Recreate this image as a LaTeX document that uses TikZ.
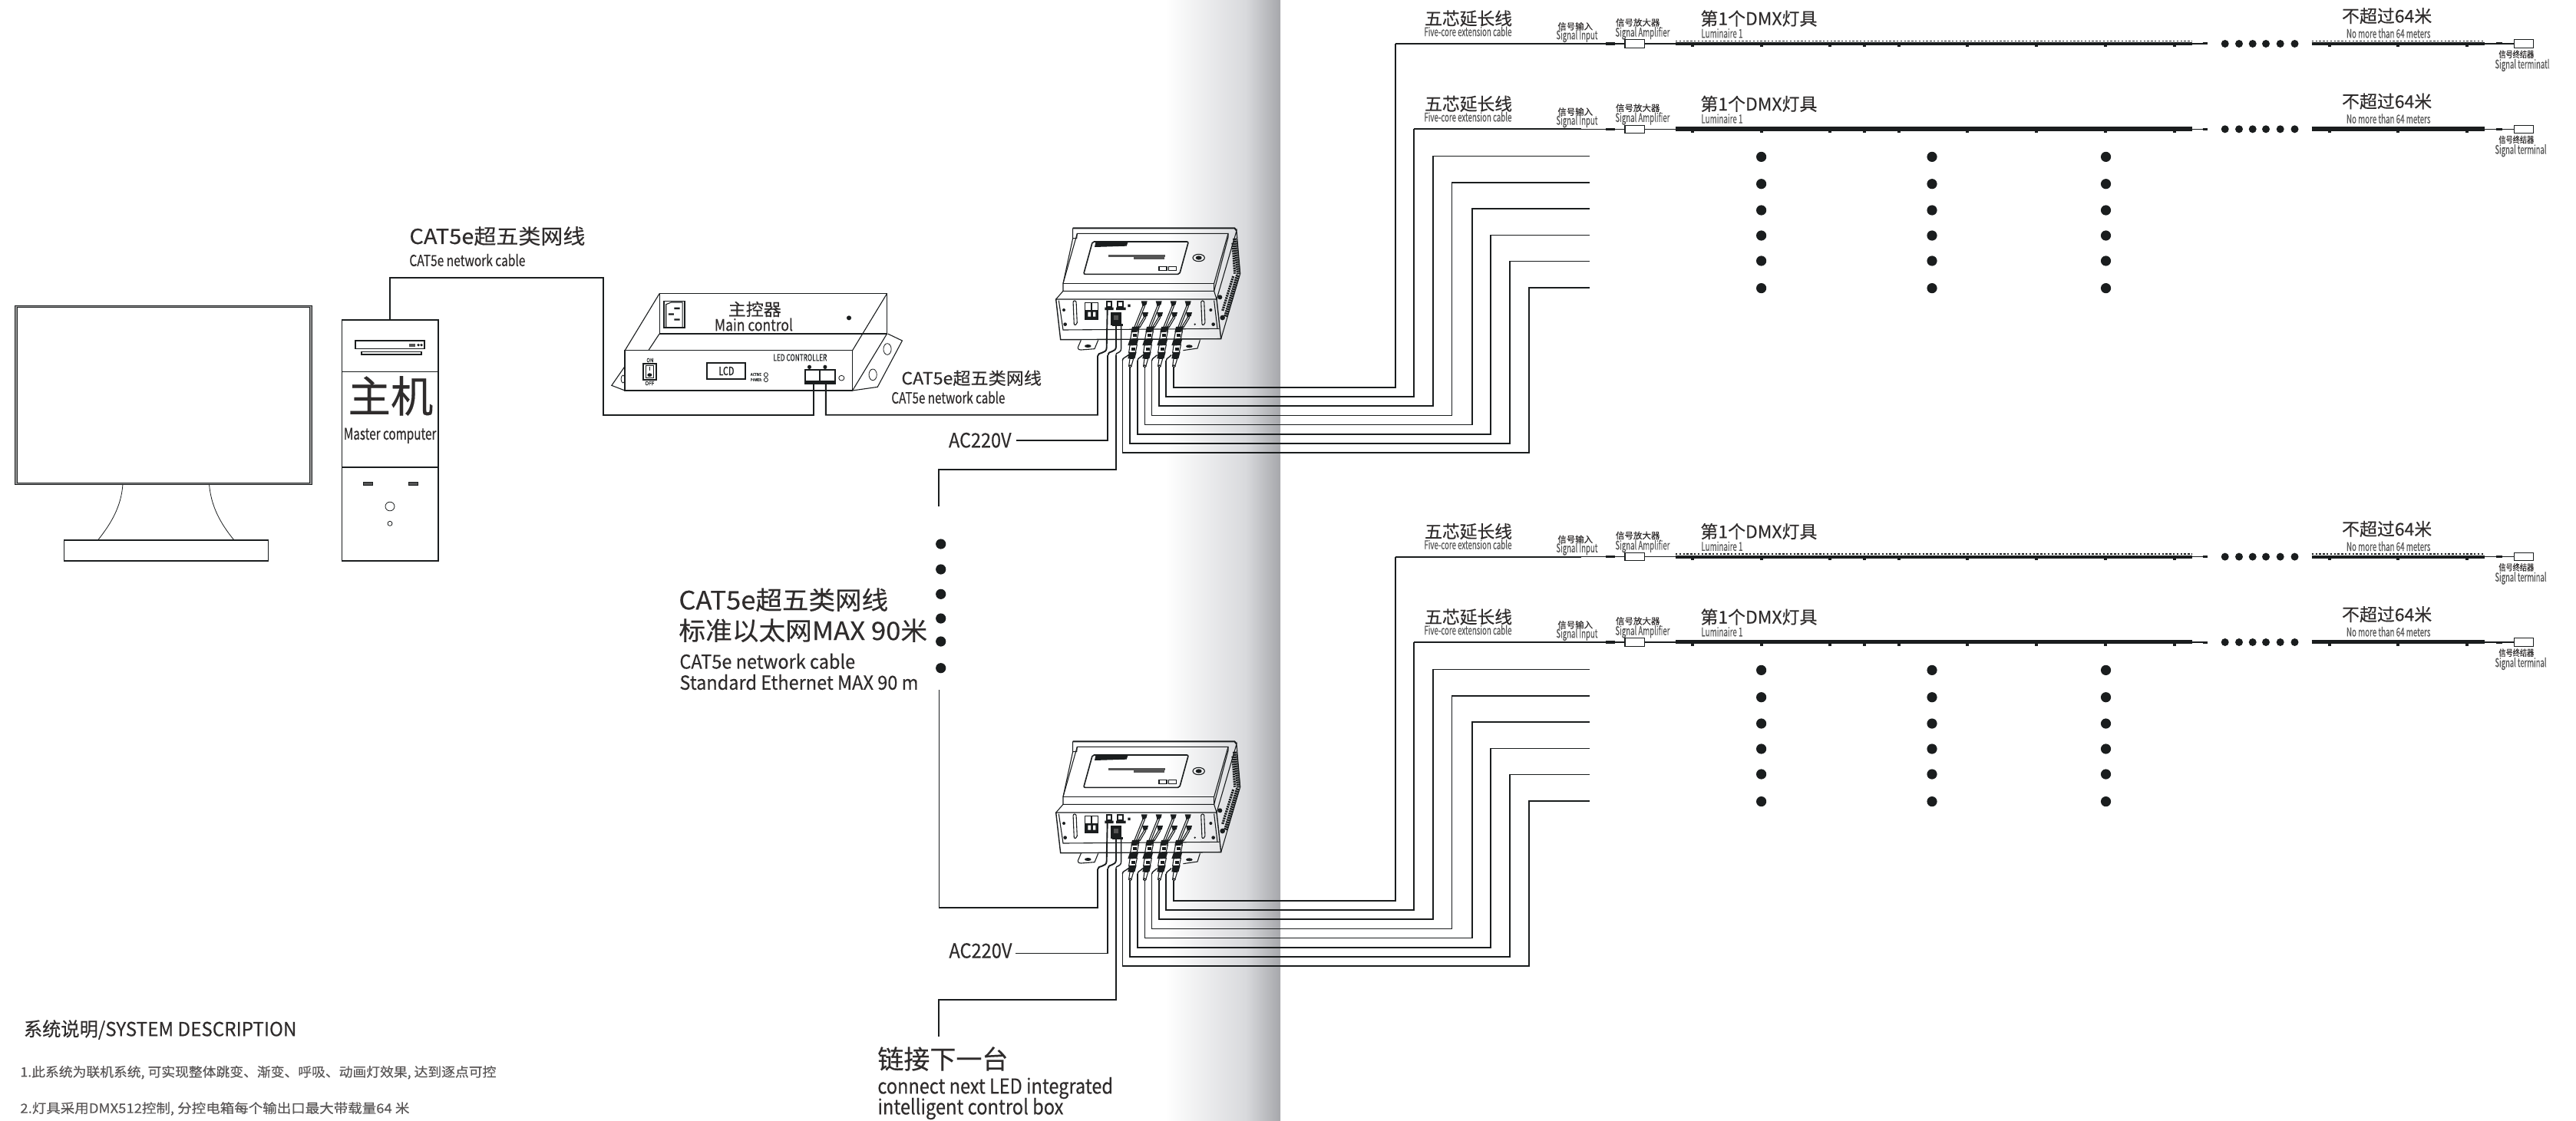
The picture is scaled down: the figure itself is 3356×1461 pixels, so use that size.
\documentclass[tikz,border=0pt]{standalone}
\usepackage{fontspec}
\usepackage{graphicx}
\setmainfont[FakeBold=0.3]{Noto Sans CJK SC}
\definecolor{ink}{HTML}{1A1D1E}
\definecolor{tit}{HTML}{2F2C2C}
\definecolor{sub}{HTML}{555555}
\definecolor{desc}{HTML}{5A5757}
\definecolor{bandA}{HTML}{D8D9DC}
\definecolor{bandB}{HTML}{A6A7AB}
\tikzset{
  wire/.style={draw=ink,line width=0.95pt,line join=miter},
  wirethin/.style={draw=ink,line width=0.7pt,line join=miter},
  hair/.style={draw=ink,line width=0.4pt},
  fine/.style={draw=ink,line width=0.55pt},
  bold/.style={draw=ink,line width=1pt},
  bigdot/.style={circle,fill=ink,inner sep=0pt,minimum size=6.6pt},
  whitebox/.style={draw=ink,fill=white,line width=0.6pt,inner sep=0pt},
}
\newcommand\lab[6][tit]{\node[anchor=west,inner sep=0pt,text=#1] (#2) at (#3) {\resizebox*{\dimexpr#4pt/2\relax}{\totalheight}{\fontsize{#5}{#5}\selectfont #6}};}
% one LED run
\newcommand\ledrun[6]{% name, y, solid?, terminal label, vertical x, long label?
  \coordinate (#1-in) at (#5,#2);
  \node[whitebox,minimum width=12.7pt,minimum height=5.2pt] (#1-amp) at (2129.7,#2) {};
  \node[whitebox,minimum width=12.7pt,minimum height=5.2pt] (#1-term) at (3288,#2) {};
  \coordinate (#1-a) at (2183,#2);
  \coordinate (#1-b) at (2855.6,#2);
  \coordinate (#1-b2) at (2875.7,#2);
  \coordinate (#1-c) at (3011.7,#2);
  \coordinate (#1-d) at (3236.8,#2);
  \draw[fine] (#1-in) -- (#1-amp.west);
  \draw[line width=1pt,draw=ink] (#1-in) -- (2060,#2);
  \draw[line width=1.7pt,draw=ink] (2092,#2) -- (2103.6,#2);
  \draw[fine] (#1-amp.east) -- (#1-a);
  \draw[fine] (#1-b) -- (#1-b2);
  \draw[line width=1.5pt,draw=ink] (2869.5,#2) -- (#1-b2);
  \draw[fine] (#1-d) -- (#1-term.west);
  \draw[line width=1.5pt,draw=ink] (3251.5,#2) -- (3260,#2);
  \ifnum#3=1
    \draw[line width=2.8pt,draw=ink] ($(#1-a)+(0,-0.5)$) -- ($(#1-b)+(0,-0.5)$);
    \draw[line width=2.8pt,draw=ink] ($(#1-c)+(0,-0.5)$) -- ($(#1-d)+(0,-0.5)$);
  \else
    \draw[line width=1.9pt,draw=ink] ($(#1-a)+(0,0.4)$) -- ($(#1-b)+(0,0.4)$);
    \draw[line width=1.9pt,draw=ink] ($(#1-c)+(0,0.4)$) -- ($(#1-d)+(0,0.4)$);
    \draw[line width=0.7pt,draw=ink,dash pattern=on 1.2pt off 1.2pt] ($(#1-a)+(0,-3.6)$) -- ($(#1-b)+(0,-3.6)$);
    \draw[line width=0.7pt,draw=ink,dash pattern=on 1.2pt off 1.2pt] ($(#1-c)+(0,-3.6)$) -- ($(#1-d)+(0,-3.6)$);
  \fi
  \foreach \tx in {2205,2294.5,2384,2429,2473.5,2563,2652.5,2742.5,2832.5,3034.7,3124,3214}
    \fill[ink] (\tx-2,#2) rectangle (\tx+2,#2+4.5);
  \foreach \dx [count=\k] in {2898.7,2917,2934.7,2952,2970.7,2989.5}
    \node[circle,fill=ink,inner sep=0pt,minimum size=5pt] (#1-dot\k) at (\dx,#2) {};
  \lab{#1-t1}{1855.8,#2-33}{113.8}{11.4}{五芯延长线}
  \lab[sub]{#1-t2}{1855,#2-16}{114}{7.8}{Five-core extension cable}
  \lab{#1-t3}{2029,#2-22.7}{45.6}{5.7}{信号输入}
  \lab[sub]{#1-t4}{2027,#2-10}{54}{7.8}{Signal Input}
  \lab{#1-t5}{2104.5,#2-27.7}{57.5}{5.7}{信号放大器}
  \lab[sub]{#1-t6}{2104,#2-13.7}{71}{7.8}{Signal Amplifier}
  \lab{#1-t7}{2215,#2-33}{152}{11.4}{第1个DMX灯具}
  \lab[sub]{#1-t8}{2216,#2-13.7}{54}{7.8}{Luminaire 1}
  \lab{#1-t9}{3050.6,#2-36.3}{117.2}{11.4}{不超过64米}
  \lab[sub]{#1-t10}{3056.5,#2-13.7}{109.5}{7.8}{No more than 64 meters}
  \lab{#1-t11}{3255,#2+13.7}{45.8}{5.7}{信号终结器}
  \lab[sub]{#1-t12}{3250,#2+28}{\ifnum#6=1 71\else 67\fi}{7.8}{#4}
}
% distribution box, drawn in its own 3x crop coordinates
\newcommand\jbox[2]{%
\begin{scope}[shift={(1340,{280+#2})},x=0.16667pt,y=-0.16667pt]
  % lid
  \draw[bold] (173,52) -- (805,52) -- (813,62);
  \draw[fine] (173,52) -- (173,92) -- (188,92) -- (190,73) -- (780,73) -- (725,268);
  \draw[fine] (173,92) -- (135,268) -- (135,298) -- (725,298) -- (725,268);
  \draw[line width=0.8pt,draw=ink] (135,268) -- (725,268);
  \draw[line width=0.8pt,draw=ink] (135,298) -- (725,298);
  \draw[fine] (190,73) -- (135,268);
  \draw[fine] (780,73) -- (780,88) -- (725,298);
  % body
  \draw[line width=0.7pt,draw=ink] (107,330) -- (735,330) -- (752,485) -- (125,488) -- cycle;
  \draw[fine] (118,335) -- (135,450) -- (745,445);
  \draw[fine] (725,335) -- (738,445);
  \draw[fine] (735,330) -- (813,62) -- (827,230) -- (752,485);
  \draw[fine] (135,298) -- (107,330);
  \draw[fine] (725,298) -- (735,330);
  \draw[ink,line width=2.6pt,dash pattern=on 1.1pt off 0.4pt] (806,92) -- (821,232);
  \draw[ink,line width=2.6pt,dash pattern=on 1.1pt off 0.4pt] (818,236) -- (770,398);
  \draw[ink,line width=1.6pt,dash pattern=on 1.1pt off 0.5pt] (798,110) -- (806,230);
  \draw[ink,line width=1.6pt,dash pattern=on 1.1pt off 0.5pt] (800,240) -- (758,375);
  \fill[ink] (748,322) circle[radius=9] (758,402) circle[radius=10];
  % label window
  \draw[line width=0.8pt,draw=ink,rounded corners=1pt] (250,105) -- (625,105) -- (590,232) -- (215,232) -- cycle;
  \fill[ink] (262,108) -- (388,108) -- (383,122) -- (258,126) -- cycle;
  \fill[sub] (312,157) rectangle (535,166);
  \fill[sub] (410,166) rectangle (530,174);
  \draw[fine] (510,203) rectangle (540,218) (548,203) rectangle (578,218);
  \draw[fine] (665,168) ellipse[x radius=23,y radius=14];
  \fill[ink] (665,168) ellipse[x radius=12,y radius=8];
  % feet
  \draw[fine] (205,490) -- (193,518) .. controls (193,528) and (200,528) .. (205,528) -- (258,524) -- (272,490);
  \fill[ink] (232,513) ellipse[x radius=13,y radius=6];
  \draw[fine] (670,490) -- (660,522) -- (604,530);
  \fill[ink] (628,514) ellipse[x radius=13,y radius=6];
  % front details
  \fill[ink] (138,372) circle[radius=6] (143,428) circle[radius=7] (712,372) circle[radius=6] (722,428) circle[radius=7] (650,428) circle[radius=4];
  \draw[fine,rounded corners=1pt] (174,336) -- (186,336) -- (190,428) -- (178,432) -- cycle;
  \draw[fine,rounded corners=1pt] (674,336) -- (686,336) -- (690,428) -- (678,432) -- cycle;
  \draw[line width=0.8pt,draw=ink] (220,343) rectangle (272,410);
  \draw[fine] (246,343) -- (246,372);
  \fill[ink] (222,372) rectangle (272,410);
  \fill[white] (232,380) rectangle (243,398) (252,380) rectangle (262,398);
  \fill[ink] (298,362) rectangle (332,372) (342,362) rectangle (380,372) (388,350) rectangle (398,360);
  \draw[line width=1.1pt,draw=ink] (305,340) rectangle (325,360) (349,340) rectangle (369,360);
  \fill[ink] (322,380) rectangle (362,432);
  \fill[sub] (332,392) rectangle (352,412);
  \fill[ink] (326,426) rectangle (370,434);
  % plugs
  \foreach \d in {0,57,114,171}{
    \begin{scope}[shift={(\d,0)}]
      \fill[ink] (440,337) -- (464,337) -- (460,352) -- (446,358) -- cycle;
      \fill[ink] (444,381) -- (468,381) -- (464,396) -- (450,402) -- cycle;
      \draw[fine] (447,355) -- (413,440) (455,355) -- (421,440);
      \draw[fine] (451,400) -- (427,440) (459,400) -- (435,440);
      \fill[ink] (405,438) -- (435,436) -- (431,454) -- (400,458) -- cycle;
      \draw[fine,fill=white] (403,458) -- (430,456) -- (424,484) -- (398,486) -- cycle;
      \fill[ink] (408,466) rectangle (422,476);
      \fill[ink] (396,486) -- (430,484) -- (423,510) -- (388,510) -- cycle;
      \draw[fine,fill=white] (396,510) -- (424,508) -- (418,538) -- (392,538) -- cycle;
      \fill[ink] (402,518) rectangle (416,530);
      \fill[ink] (392,538) -- (422,536) -- (415,562) -- (388,562) -- cycle;
      \draw[fine,fill=white] (396,562) -- (410,562) -- (402,590) -- (392,590) -- cycle;
      \draw[fine,fill=white] (397,592) circle[radius=5];
    \end{scope}
  }
  % wiring stubs
  \coordinate (#1-o1) at (567,597);
  \coordinate (#1-o3) at (511,597);
  \coordinate (#1-o5) at (454,597);
  \coordinate (#1-o7) at (397,597);
  \coordinate (#1-o2) at (538,570);
  \coordinate (#1-o4) at (482,570);
  \coordinate (#1-o6) at (426,570);
  \coordinate (#1-o8) at (367,570);
  \coordinate (#1-h1) at (567,675);
  \coordinate (#1-h2) at (538,710);
  \coordinate (#1-h3) at (511,746);
  \coordinate (#1-h4) at (482,785);
  \coordinate (#1-h5) at (454,820);
  \coordinate (#1-h6) at (426,857);
  \coordinate (#1-h7) at (397,893);
  \coordinate (#1-h8) at (367,930);
  \coordinate (#1-net) at (270,552);
  \coordinate (#1-ac) at (310,548);
  \coordinate (#1-nx) at (341,548);
  \draw[wire] (#1-net) .. controls (270,535) and (305,545) .. (305,520) -- (308,372);
  \draw[wire] (#1-ac) .. controls (310,530) and (342,540) .. (342,515) -- (342,432);
  \draw[wirethin] (#1-nx) .. controls (341,535) and (362,545) .. (362,520) -- (362,432);
  \draw[wirethin] (#1-o2) .. controls (538,560) and (550,558) .. (558,548);
  \draw[wirethin] (#1-o4) .. controls (482,560) and (494,558) .. (502,548);
  \draw[wirethin] (#1-o6) .. controls (426,560) and (438,558) .. (446,548);
  \draw[wirethin] (#1-o8) .. controls (367,558) and (380,558) .. (390,548);
\end{scope}
}
\usetikzlibrary{calc}
\begin{document}
\begin{tikzpicture}[x=0.5pt,y=-0.5pt]
\useasboundingbox (0,0) rectangle (3356,1461);
\fill[white] (0,0) rectangle (3356,1461);
% shaded band
\shade[left color=white,right color=bandA] (1518,0) rectangle (1624,1461);
\shade[left color=bandA,right color=bandB] (1623.5,0) rectangle (1668,1461);

% monitor
\draw[draw=gray!80,line width=1.2pt] (21,399.5) rectangle (404.5,630);
\draw[hair] (19.4,398) rectangle (406,631);
\draw[hair] (22.4,400.7) rectangle (403,629);
\draw[hair] (160,631) .. controls (158,660) and (145,682) .. (127.5,704);
\draw[hair] (272.5,631) .. controls (275,660) and (287,682) .. (305,704);
\draw[fine] (83.7,704) rectangle (349.5,731);

% tower
\node[draw=ink,line width=0.55pt,inner sep=0pt,minimum width=62.8pt,minimum height=157pt] (tower) at (508.2,574) {};
\draw[fine] (445.4,484.3) -- (571,484.3) (445.4,609) -- (571,609);
\draw[fine] (463,444) rectangle (553,454.3);
\draw[fine] (471,458.3) rectangle (549,462);
\fill[sub] (533,448) rectangle (541,451.5);
\fill[ink] (545,449.7) circle[radius=1.8] (549,449.7) circle[radius=1.8];
\draw[hair,fill=sub] (473,628.5) rectangle (485,632);
\draw[hair,fill=sub] (532,628.5) rectangle (544,632);
\draw[hair] (508,660) ellipse[x radius=6,y radius=5.8];
\draw[hair] (508,682.3) ellipse[x radius=3,y radius=3];
\lab{zhuji}{453,516}{111}{28}{主机}
\lab{master}{447.5,567.7}{120.5}{10.5}{Master computer}
\lab{cat1}{533,307.7}{229}{13.5}{CAT5e超五类网线}
\lab{cat1e}{533,339}{151}{10}{CAT5e network cable}

% main controller
\begin{scope}[shift={(780,270)},x=0.2551pt,y=-0.16667pt]
  \draw[fine] (155,338) -- (736,338) -- (736,495) -- (155,495) -- cycle;
  \draw[line width=0.7pt,draw=ink] (67,560) rectangle (648,717);
  \draw[fine] (155,338) -- (67,560) (155,495) -- (127,560);
  \draw[fine] (736,338) -- (648,560) (736,495) -- (648,717);
  \draw[fine] (738,495) -- (775,522) -- (712,703) -- (648,717);
  \draw[fine] (67,622) -- (33,697) -- (67,717);
  \draw[hair] (737,555) ellipse[x radius=10,y radius=22];
  \draw[hair] (700,655) ellipse[x radius=10,y radius=22];
  \draw[hair] (62,672) ellipse[x radius=5,y radius=15];
  \draw[line width=0.8pt,draw=ink] (167,367) rectangle (219,471);
  \draw[fine] (172,380) -- (172,470) -- (214,470) -- (214,372) -- (185,372) -- cycle;
  \fill[ink] (193,392) rectangle (207,399) (178,415) rectangle (192,422) (193,436) rectangle (207,443);
  \fill[ink] (639,433) ellipse[x radius=6,y radius=9];
  \draw[line width=0.9pt,draw=ink] (113,612) rectangle (147,675);
  \draw[hair] (120,620) rectangle (140,668);
  \fill[ink] (130,656) ellipse[x radius=6,y radius=7];
  \draw[ink,line width=0.6pt] (130,625) -- (130,640);
  \draw[line width=0.9pt,draw=ink] (276,608) rectangle (374,672);
  \draw[hair] (427,655) ellipse[x radius=5,y radius=8];
  \draw[hair] (427,675) ellipse[x radius=5,y radius=8];
  \draw[line width=1pt,draw=ink] (527,636) rectangle (565,690) (565,636) rectangle (603,690);
  \fill[ink] (527,678) rectangle (603,690);
  \fill[white] (535,650) rectangle (557,676) (573,650) rectangle (595,676);
  \fill[ink] (538,625) ellipse[x radius=5,y radius=8] (578,625) ellipse[x radius=5,y radius=8];
  \draw[hair] (620,668) ellipse[x radius=7,y radius=10];
  \coordinate (ctrl-p1) at (548,690);
  \coordinate (ctrl-p2) at (580,690);
\end{scope}
\lab{zkq}{948.4,403}{69}{11}{主控器}
\lab{mainc}{930.5,423}{102}{10.5}{Main control}
\lab[ink]{ledc}{1007,466}{70}{6}{LED CONTROLLER}
\lab[ink]{lcd}{936,483.5}{20}{7.5}{LCD}
\lab[ink]{onl}{842,469.5}{9}{3.5}{ON}
\lab[ink]{offl}{840,499.5}{12}{3.5}{OFF}
\lab[ink]{act}{977.5,488}{14}{2.4}{ACTIVE}
\lab[ink]{pwr}{977.5,495}{14}{2.4}{POWER}
\lab{cat2}{1174,492.7}{182.6}{11}{CAT5e超五类网线}
\lab{cat2e}{1161,518}{148}{10}{CAT5e network cable}
\lab{ac1}{1235.6,573.7}{81.5}{13}{AC220V}
\lab{ac2}{1236,1239}{82}{13}{AC220V}
\coordinate (ac1end) at (1323.7,573.7);
\coordinate (ac2end) at (1323,1242.5);

% left notes
\lab{n1}{884,781.7}{272.7}{16.5}{CAT5e超五类网线}
\lab{n2}{884,821.7}{323.7}{16.5}{标准以太网MAX 90米}
\lab{n3}{885,861.7}{228.7}{12.5}{CAT5e network cable}
\lab{n4}{885,889}{311}{12.5}{Standard Ethernet MAX 90 m}
\lab{nx1}{1143,1380}{170}{17}{链接下一台}
\lab{nx2}{1143,1418}{306.5}{13.5}{connect next LED integrated}
\lab{nx3}{1143,1445}{242}{13.5}{intelligent control box}

% bottom description
\lab{s0}{30.6,1342}{355.4}{12.5}{系统说明/SYSTEM DESCRIPTION}
\lab[desc]{s1}{26,1397.7}{620}{8.5}{1.此系统为联机系统, 可实现整体跳变、渐变、呼吸、动画灯效果, 达到逐点可控}
\lab[desc]{s2}{26,1445}{507}{8.5}{2.灯具采用DMX512控制, 分控电箱每个输出口最大带载量64 米}

% boxes
\jbox{A}{0}
\jbox{B}{669}

% LED runs
\ledrun{R1}{57}{0}{Signal terminatl}{1817.9}{1}
\ledrun{R2}{168.3}{1}{Signal terminal}{1842.4}{0}
\ledrun{R3}{725.6}{0}{Signal terminal}{1817.9}{0}
\ledrun{R4}{837}{1}{Signal terminal}{1842.4}{0}

% open ends of the outputs
\foreach \g/\dy in {A/0,B/669}{
  \coordinate (\g-e3) at (2071,203.5+\dy);
  \coordinate (\g-e4) at (2071,238+\dy);
  \coordinate (\g-e5) at (2071,272+\dy);
  \coordinate (\g-e6) at (2071,306.5+\dy);
  \coordinate (\g-e7) at (2071,340.5+\dy);
  \coordinate (\g-e8) at (2071,375+\dy);
  \coordinate (\g-v3) at (1867,238+\dy);
  \coordinate (\g-v4) at (1891.5,238+\dy);
  \coordinate (\g-v5) at (1917.9,238+\dy);
  \coordinate (\g-v6) at (1942,238+\dy);
  \coordinate (\g-v7) at (1967,238+\dy);
  \coordinate (\g-v8) at (1992,238+\dy);
}
% outputs to LED runs
\draw[wirethin] (A-o1) -- (A-h1) -- (A-h1 -| R1-in) -- (R1-in);
\draw[wire] (A-o2) -- (A-h2) -- (A-h2 -| R2-in) -- (R2-in);
\draw[wirethin] (B-o1) -- (B-h1) -- (B-h1 -| R3-in) -- (R3-in);
\draw[wire] (B-o2) -- (B-h2) -- (B-h2 -| R4-in) -- (R4-in);
\foreach \g in {A,B}{
  \draw[wire] (\g-o3) -- (\g-h3) -- (\g-h3 -| \g-v3) -- (\g-e3 -| \g-v3) -- (\g-e3);
  \draw[wirethin] (\g-o4) -- (\g-h4) -- (\g-h4 -| \g-v4) -- (\g-e4 -| \g-v4) -- (\g-e4);
  \draw[wirethin] (\g-o5) -- (\g-h5) -- (\g-h5 -| \g-v5) -- (\g-e5 -| \g-v5) -- (\g-e5);
  \draw[wire] (\g-o6) -- (\g-h6) -- (\g-h6 -| \g-v6) -- (\g-e6 -| \g-v6) -- (\g-e6);
  \draw[wire] (\g-o7) -- (\g-h7) -- (\g-h7 -| \g-v7) -- (\g-e7 -| \g-v7) -- (\g-e7);
  \draw[wirethin] (\g-o8) -- (\g-h8) -- (\g-h8 -| \g-v8) -- (\g-e8 -| \g-v8) -- (\g-e8);
}

% network, power and link wires
\coordinate (bend1) at (785.7,362);
\coordinate (bend2) at (785.7,540.7);
\draw[wire] (tower.north) |- (bend1) -- (bend2) -| (ctrl-p1);
\coordinate (bend3) at (1430,540.7);
\draw[wire] (ctrl-p2) |- (bend3) -- (A-net);
\draw[wire] (ac1end) -| (A-ac);
\coordinate (linkA) at (1223,660);
\coordinate (linkA2) at (1223,611.7);
\draw[wire] (linkA) -- (linkA2) -| (A-nx);
\coordinate (linkB) at (1223.3,899);
\coordinate (linkB2) at (1223.3,1182.7);
\draw[wirethin] (linkB) -- (linkB2);
\draw[wire] (linkB2) -| (B-net);
\draw[wire] (ac2end) -| (B-ac);
\coordinate (linkC) at (1223,1350.7);
\coordinate (linkC2) at (1223,1302.7);
\draw[wire] (linkC) -- (linkC2) -| (B-nx);

% dot columns
\foreach \yy [count=\i] in {709,742,774.3,806,836,870.7}
  \node[bigdot] (ld\i) at (1225.7,\yy) {};
\foreach \dy/\g in {0/u,669/d}{
  \foreach \xx [count=\c] in {2294.6,2517,2743.5}{
    \foreach \yy [count=\i] in {204.4,239.7,274,307,340,375.6}
      \node[bigdot] (dc\g\c\i) at (\xx,\yy+\dy) {};
  }
}
\end{tikzpicture}
\end{document}
